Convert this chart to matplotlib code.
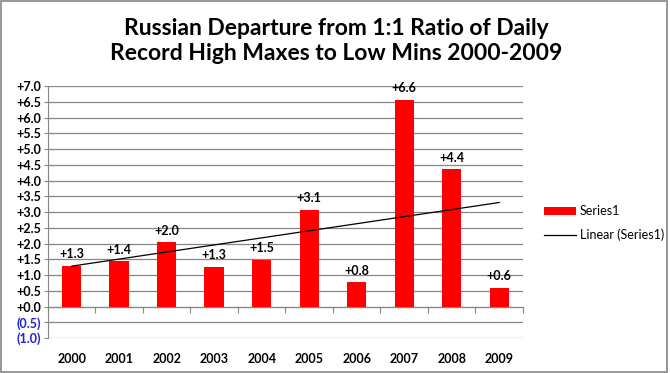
import numpy as np
import matplotlib
matplotlib.use("Agg")
import matplotlib.pyplot as plt
from matplotlib.ticker import FixedLocator

years = ["2000", "2001", "2002", "2003", "2004", "2005", "2006", "2007", "2008", "2009"]
values = [1.3, 1.43, 2.04, 1.27, 1.49, 3.07, 0.78, 6.57, 4.37, 0.6]
title = "Russian Departure from 1:1 Ratio of Daily\nRecord High Maxes to Low Mins 2000-2009"

FONT = ["Lato", "DejaVu Sans"]
plt.rcParams['font.family'] = FONT

fig = plt.figure(figsize=(6.7, 3.73), dpi=100)
fig.patch.set_facecolor("white")
# outer border
fig.add_artist(plt.Rectangle((0.002, 0.003), 0.994, 0.994, transform=fig.transFigure,
                             fill=False, edgecolor="#868686", linewidth=1.2))

ax = fig.add_axes([0.0716, 0.0938, 0.709, 0.6756])
x = np.arange(len(years))
bars = ax.bar(x, values, width=0.41, color="#ff0000", zorder=3, label="Series1")

coef = np.polyfit(x, values, 1)
line, = ax.plot(x, np.polyval(coef, x), color="black", linewidth=0.9, zorder=4,
                label="Linear (Series1)")

for xi, v in zip(x, values):
    ax.text(xi, v + 0.17, f"+{v:.1f}", ha="center", va="bottom", fontsize=9,
            fontweight="bold", zorder=5)

ax.set_xlim(-0.5, len(years) - 0.5)
ax.set_ylim(-1.0, 7.0)
yt = np.arange(-1.0, 7.01, 0.5)
ax.set_yticks(yt)
labels = []
for t in yt:
    if t < 0:
        labels.append(f"({abs(t):.1f})")
    else:
        labels.append(f"+{t:.1f}")
ax.set_yticklabels(labels)
for lab, t in zip(ax.get_yticklabels(), yt):
    lab.set_fontweight("bold")
    lab.set_fontsize(9)
    lab.set_color("#1f1fd0" if t < 0 else "black")
ax.tick_params(axis="y", length=3, color="#868686", pad=2)
ax.yaxis.grid(True, color="#868686", linewidth=0.9, zorder=0)
ax.set_axisbelow(True)

ax.set_xticks(x)
ax.set_xticklabels(years, fontsize=9, fontweight="bold")
ax.tick_params(axis="x", length=0, pad=11)

for s in ["top", "right", "bottom"]:
    ax.spines[s].set_visible(False)
ax.spines["left"].set_color("#868686")

# category axis crossing at zero
sec = ax.secondary_xaxis(1.0 / 8.0)
sec.spines["bottom"].set_color("#868686")
sec.xaxis.set_major_locator(FixedLocator(list(np.arange(-0.5, len(years), 1.0))))
sec.tick_params(axis="x", direction="out", length=4, color="#868686", labelbottom=False)

fig.text(0.502, 0.89, title, ha="center", va="center", fontsize=16.5, fontweight="bold",
         linespacing=1.2)

leg = ax.legend([bars, line], ["Series1", "Linear (Series1)"], loc="center left",
                bbox_to_anchor=(1.02, 0.455), frameon=False, fontsize=9,
                handlelength=2.6, handleheight=0.55, labelspacing=0.9, handletextpad=0.3)

fig.savefig("out.png", dpi=100, facecolor="white")
